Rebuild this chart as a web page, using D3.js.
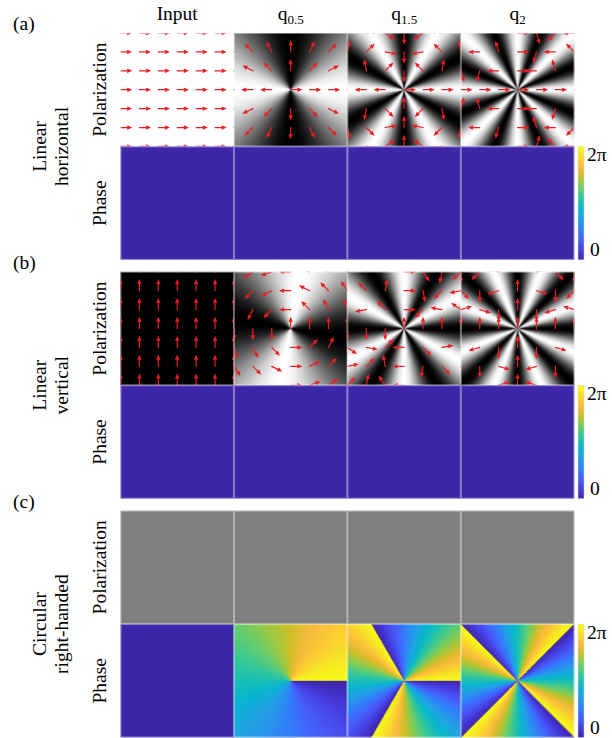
<!DOCTYPE html>
<html><head><meta charset="utf-8">
<script src="https://cdn.jsdelivr.net/npm/d3@7"></script>
<style>
html,body{margin:0;padding:0;background:#fff;}
svg{display:block;}
</style>
</head><body><div id="chart"></div>
<script>
// ---------- data ----------
const columnBase = ["Input", "q", "q", "q"];
const columnSub = ["", "0.5", "1.5", "2"];
const charges = [0, 0.5, 1.5, 2];
const phaseOffsets = [0, 0, 0, Math.PI];
const panelTags = ["(a)", "(b)", "(c)"];
const groupLines = [["Linear", "horizontal"], ["Linear", "vertical"], ["Circular", "right-handed"]];
const inputAngles = [0, 90, null];          // degrees; null = circular
const intensityTilt = [[0, 0, 0, 0], [0, 10, 0, 0], [0, 0, 0, 0]]; // degrees
const rowNames = ["Polarization", "Phase"];
const arrowGrid = [-1, -2/3, -1/3, 0, 1/3, 2/3, 1];
const colorbarTicks = [0, 1];
const colorbarLabels = ["0", "2π"];
const parulaStops = [
  [62,38,168],[69,55,213],[72,77,240],[69,99,253],[50,124,252],[43,145,239],
  [32,165,227],[8,181,208],[25,191,182],[55,200,151],[100,205,111],[157,201,67],
  [209,191,39],[248,186,61],[252,207,48],[245,233,36],[249,251,21]
];

// ---------- layout ----------
const W = 612, H = 738;
const FONT = "'Liberation Serif', 'Times New Roman', Times, serif";
const svg = d3.select("#chart").append("svg").attr("width", W).attr("height", H)
  .attr("font-family", FONT);
const x = d3.scaleBand().domain(d3.range(4)).range([120.5, 574.3]);
const yG = d3.scaleBand().domain(d3.range(3)).range([33, 737.5]).paddingInner(0.05);
const yR = d3.scaleBand().domain(d3.range(2)).range([0, yG.bandwidth()]);
const parula = d3.scaleLinear()
  .domain(parulaStops.map((d, i) => i / (parulaStops.length - 1)))
  .range(parulaStops.map(c => d3.rgb(c[0], c[1], c[2])))
  .interpolate(d3.interpolateRgb).clamp(true);

const TWO_PI = 2 * Math.PI;
const DEG = Math.PI / 180;
const mod2pi = a => ((a % TWO_PI) + TWO_PI) % TWO_PI;
const N = 228;
const defs = svg.append("defs");

// ---------- panels ----------
let clipId = 0;
for (let g = 0; g < 3; g++) {
  for (let r = 0; r < 2; r++) {
    for (let c = 0; c < 4; c++) {
      const x0 = x(c), bw = x.bandwidth();
      const y0 = yG(g) + yR(r), bh = yR.bandwidth();
      const q = charges[c];
      const thIn = inputAngles[g] === null ? null : inputAngles[g] * DEG;
      const tilt = intensityTilt[g][c] * DEG;
      const canvas = document.createElement("canvas");
      canvas.width = N; canvas.height = N;
      const ctx = canvas.getContext("2d");
      const img = ctx.createImageData(N, N);
      for (let j = 0; j < N; j++) {
        const v = 1 - 2 * (j + 0.5) / N;
        for (let i = 0; i < N; i++) {
          const u = 2 * (i + 0.5) / N - 1;
          const phi = Math.atan2(v, u);
          let col;
          if (r === 0) {
            let gray;
            if (thIn === null) gray = 128;
            else { const cc = Math.cos(2 * q * (phi + tilt) + thIn); gray = 255 * cc * cc; }
            col = [gray, gray, gray];
          } else {
            let val = 0;
            if (thIn === null) val = mod2pi(phaseOffsets[c] - 2 * q * phi) / TWO_PI;
            const cl = d3.rgb(parula(val));
            col = [cl.r, cl.g, cl.b];
          }
          const k = 4 * (j * N + i);
          img.data[k] = col[0]; img.data[k+1] = col[1]; img.data[k+2] = col[2]; img.data[k+3] = 255;
        }
      }
      ctx.putImageData(img, 0, 0);
      svg.append("image")
        .attr("href", canvas.toDataURL())
        .attr("x", x0).attr("y", y0).attr("width", bw).attr("height", bh)
        .attr("preserveAspectRatio", "none");

      // arrows for linear polarization rows
      if (r === 0 && thIn !== null) {
        const id = "clip" + (clipId++);
        defs.append("clipPath").attr("id", id)
          .append("rect").attr("x", x0).attr("y", y0).attr("width", bw).attr("height", bh);
        const us = d3.scaleLinear().domain([-1, 1]).range([x0, x0 + bw]);
        const vs = d3.scaleLinear().domain([-1, 1]).range([y0 + bh, y0]);
        const L = us(0.18) - us(0);
        const p = d3.path();
        arrowGrid.forEach(gv => arrowGrid.forEach(gu => {
          const phi = Math.atan2(gv, gu);
          const th = 2 * q * phi + thIn;
          const dx = Math.cos(th), dy = -Math.sin(th);
          const sx = us(gu), sy = vs(gv);
          const ex = sx + L * dx, ey = sy + L * dy;
          p.moveTo(sx, sy); p.lineTo(ex, ey);
          const hl = 3.2, hw = 1.4;
          p.moveTo(ex - hl * dx - hw * dy, ey - hl * dy + hw * dx);
          p.lineTo(ex, ey);
          p.lineTo(ex - hl * dx + hw * dy, ey - hl * dy - hw * dx);
        }));
        svg.append("path").attr("d", p.toString())
          .attr("clip-path", `url(#${id})`)
          .attr("fill", "none").attr("stroke", "#ea1d26")
          .attr("stroke-width", 1.2).attr("stroke-linecap", "round");
      }
      svg.append("rect").attr("x", x0 + 0.5).attr("y", y0 + 0.5)
        .attr("width", bw - 1).attr("height", bh - 1)
        .attr("fill", "none").attr("stroke", "rgba(255,255,255,0.4)").attr("stroke-width", 1);
    }
  }
}

// ---------- colorbars ----------
const grad = defs.append("linearGradient").attr("id", "parulaGrad")
  .attr("x1", 0).attr("y1", 1).attr("x2", 0).attr("y2", 0);
d3.range(0, 1.0001, 0.05).forEach(t => grad.append("stop").attr("offset", t).attr("stop-color", parula(t)));
for (let g = 0; g < 3; g++) {
  const y0 = yG(g) + yR(1), bh = yR.bandwidth();
  const cy = d3.scaleLinear().domain([0, 1]).range([y0 + bh, y0]);
  svg.append("rect").attr("x", 578).attr("y", cy(1)).attr("width", 6).attr("height", cy(0) - cy(1))
    .attr("fill", "url(#parulaGrad)").attr("stroke", "#d8d8d8").attr("stroke-width", 0.5);
  colorbarTicks.forEach((t, i) => {
    svg.append("text")
      .attr("x", t === 0 ? 590 : 587)
      .attr("y", t === 0 ? cy(t) - 4 : cy(t) + 15)
      .attr("font-size", 19.5)
      .text(colorbarLabels[i]);
  });
}

// ---------- column headers ----------
columnBase.forEach((b, c) => {
  const t = svg.append("text").attr("x", x(c) + x.bandwidth() / 2).attr("y", 20)
    .attr("text-anchor", "middle").attr("font-size", 19.5);
  t.append("tspan").text(b);
  if (columnSub[c]) t.append("tspan").attr("font-size", 13).attr("dy", 3.5).text(columnSub[c]);
});

// ---------- row and group labels ----------
for (let g = 0; g < 3; g++) {
  svg.append("text").attr("x", 13).attr("y", yG(g) - 3).attr("font-size", 19.5).text(panelTags[g]);
  rowNames.forEach((name, r) => {
    const cy = yG(g) + yR(r) + yR.bandwidth() / 2;
    svg.append("text").attr("transform", `translate(106,${cy}) rotate(-90)`)
      .attr("text-anchor", "middle").attr("font-size", 19.5).text(name);
  });
  const gy = yG(g) + yG.bandwidth() / 2;
  groupLines[g].forEach((line, k) => {
    svg.append("text").attr("transform", `translate(${46 + 22 * k},${gy}) rotate(-90)`)
      .attr("text-anchor", "middle").attr("font-size", 19.5).text(line);
  });
}
</script>
</body></html>
